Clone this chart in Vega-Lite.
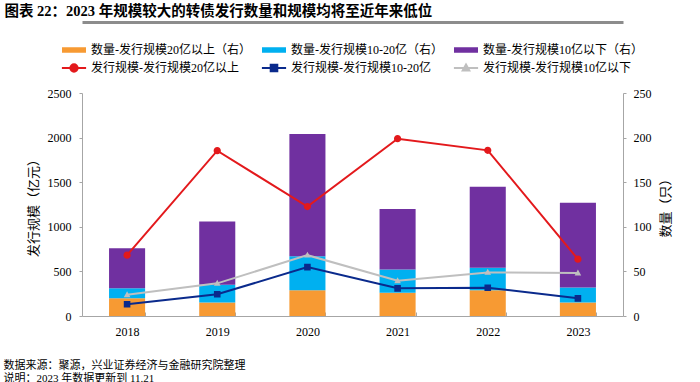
{
  "$schema": "https://vega.github.io/schema/vega-lite/v6.json",
  "width": 541,
  "height": 223,
  "autosize": {"type": "none"},
  "padding": {"left": 82, "top": 93, "right": 77, "bottom": 66},
  "background": "white",
  "config": {
    "view": {"stroke": null},
    "axis": {"grid": false, "domainColor": "#A6A6A6", "tickColor": "#A6A6A6", "labelColor": "#000000", "titleColor": "#000000", "labelFont": "Liberation Serif", "labelFontSize": 12, "titleFont": "Liberation Serif, Noto Sans CJK SC", "titleFontWeight": "normal", "titleFontSize": 13}
  },
  "datasets": {
    "bars": [
      {"year": "2018", "series": "数量-发行规模20亿以上（右）", "k": 1, "count": 20},
      {"year": "2018", "series": "数量-发行规模10-20亿（右）", "k": 2, "count": 11},
      {"year": "2018", "series": "数量-发行规模10亿以下（右）", "k": 3, "count": 45},
      {"year": "2019", "series": "数量-发行规模20亿以上（右）", "k": 1, "count": 15},
      {"year": "2019", "series": "数量-发行规模10-20亿（右）", "k": 2, "count": 20},
      {"year": "2019", "series": "数量-发行规模10亿以下（右）", "k": 3, "count": 71},
      {"year": "2020", "series": "数量-发行规模20亿以上（右）", "k": 1, "count": 29},
      {"year": "2020", "series": "数量-发行规模10-20亿（右）", "k": 2, "count": 38},
      {"year": "2020", "series": "数量-发行规模10亿以下（右）", "k": 3, "count": 137},
      {"year": "2021", "series": "数量-发行规模20亿以上（右）", "k": 1, "count": 26},
      {"year": "2021", "series": "数量-发行规模10-20亿（右）", "k": 2, "count": 26},
      {"year": "2021", "series": "数量-发行规模10亿以下（右）", "k": 3, "count": 68},
      {"year": "2022", "series": "数量-发行规模20亿以上（右）", "k": 1, "count": 29},
      {"year": "2022", "series": "数量-发行规模10-20亿（右）", "k": 2, "count": 25},
      {"year": "2022", "series": "数量-发行规模10亿以下（右）", "k": 3, "count": 91},
      {"year": "2023", "series": "数量-发行规模20亿以上（右）", "k": 1, "count": 15},
      {"year": "2023", "series": "数量-发行规模10-20亿（右）", "k": 2, "count": 17},
      {"year": "2023", "series": "数量-发行规模10亿以下（右）", "k": 3, "count": 95}
    ],
    "lines": [
      {"year": "2018", "series": "发行规模-发行规模20亿以上", "amount": 682},
      {"year": "2019", "series": "发行规模-发行规模20亿以上", "amount": 1853},
      {"year": "2020", "series": "发行规模-发行规模20亿以上", "amount": 1227},
      {"year": "2021", "series": "发行规模-发行规模20亿以上", "amount": 1988},
      {"year": "2022", "series": "发行规模-发行规模20亿以上", "amount": 1857},
      {"year": "2023", "series": "发行规模-发行规模20亿以上", "amount": 637},
      {"year": "2018", "series": "发行规模-发行规模10-20亿", "amount": 131},
      {"year": "2019", "series": "发行规模-发行规模10-20亿", "amount": 243},
      {"year": "2020", "series": "发行规模-发行规模10-20亿", "amount": 548},
      {"year": "2021", "series": "发行规模-发行规模10-20亿", "amount": 310},
      {"year": "2022", "series": "发行规模-发行规模10-20亿", "amount": 317},
      {"year": "2023", "series": "发行规模-发行规模10-20亿", "amount": 198},
      {"year": "2018", "series": "发行规模-发行规模10亿以下", "amount": 238},
      {"year": "2019", "series": "发行规模-发行规模10亿以下", "amount": 366},
      {"year": "2020", "series": "发行规模-发行规模10亿以下", "amount": 682},
      {"year": "2021", "series": "发行规模-发行规模10亿以下", "amount": 395},
      {"year": "2022", "series": "发行规模-发行规模10亿以下", "amount": 489},
      {"year": "2023", "series": "发行规模-发行规模10亿以下", "amount": 481}
    ]
  },
  "layer": [
    {
      "data": {"name": "bars"},
      "mark": {"type": "bar"},
      "encoding": {
        "x": {
          "field": "year", "type": "nominal",
          "scale": {"paddingInner": 0.6, "paddingOuter": 0.3},
          "axis": {
            "orient": "bottom", "labelAngle": 0, "labelPadding": 14, "tickBand": "extent", "tickSize": -4,
            "title": ["数据来源：聚源，兴业证券经济与金融研究院整理", "说明：2023 年数据更新到 11.21"],
            "titleX": -79, "titleY": 43, "titleAlign": "left", "titleAnchor": "start", "titleBaseline": "top",
            "titleFontSize": 11, "titleLineHeight": 13
          }
        },
        "y": {
          "field": "count", "type": "quantitative", "stack": "zero",
          "scale": {"domain": [0, 250]},
          "axis": {"orient": "right", "values": [0, 50, 100, 150, 200, 250], "format": "d", "title": "数量（只）", "titleAngle": 270, "titleBaseline": "top", "titlePadding": 8, "labelPadding": 7, "tickSize": 3}
        },
        "color": {
          "field": "series", "type": "nominal",
          "scale": {
            "domain": ["数量-发行规模20亿以上（右）", "数量-发行规模10-20亿（右）", "数量-发行规模10亿以下（右）", "发行规模-发行规模20亿以上", "发行规模-发行规模10-20亿", "发行规模-发行规模10亿以下"],
            "range": ["#F79A33", "#00B0F0", "#7030A0", "#E3191C", "#0A2A8C", "#BFBFBF"]
          },
          "legend": {
            "orient": "none", "legendX": -20, "legendY": -55, "direction": "horizontal", "columns": 3, "title": null,
            "columnPadding": 6, "rowPadding": 0, "labelFont": "Liberation Serif, Noto Sans CJK SC", "labelFontSize": 12,
            "labelColor": "#000000", "labelOffset": 5, "labelLimit": 300, "symbolSize": 484, "symbolStrokeWidth": 2
          }
        },
        "order": {"field": "k", "type": "quantitative"}
      }
    },
    {
      "data": {"name": "lines"},
      "encoding": {
        "x": {
          "field": "year", "type": "nominal",
          "axis": {
            "orient": "top", "offset": 71, "labels": false, "ticks": false, "domainColor": "#8C8C8C", "domainWidth": 3,
            "title": "图表 22：2023 年规模较大的转债发行数量和规模均将至近年来低位",
            "titleX": -78, "titleY": -7, "titleAlign": "left", "titleAnchor": "start", "titleBaseline": "alphabetic",
            "titleFontSize": 14.5, "titleFontWeight": "bold"
          }
        },
        "y": {
          "field": "amount", "type": "quantitative",
          "scale": {"domain": [0, 2500]},
          "axis": {"orient": "left", "values": [0, 500, 1000, 1500, 2000, 2500], "format": "d", "title": "发行规模（亿元）", "titlePadding": 7, "labelPadding": 8, "tickSize": 3}
        },
        "color": {"field": "series", "type": "nominal"}
      },
      "layer": [
        {"mark": {"type": "line", "strokeWidth": 2}},
        {
          "mark": {"type": "point", "filled": true, "opacity": 1, "size": 484, "strokeWidth": 0},
          "encoding": {
            "shape": {
              "field": "series", "type": "nominal",
              "scale": {
                "domain": ["数量-发行规模20亿以上（右）", "数量-发行规模10-20亿（右）", "数量-发行规模10亿以下（右）", "发行规模-发行规模20亿以上", "发行规模-发行规模10-20亿", "发行规模-发行规模10亿以下"],
                "range": ["M-1,-0.15H1V0.15H-1Z", "M-1,-0.15H1V0.15H-1Z", "M-1,-0.15H1V0.15H-1Z", "M-1.1,0H1.1M-0.33,0A0.33,0.33,0,1,1,0.33,0A0.33,0.33,0,1,1,-0.33,0Z", "M-1.1,0H1.1M-0.3,-0.3H0.3V0.3H-0.3Z", "M-1.1,0H1.1M0,-0.32L0.3,0.22H-0.3Z"]
              },
              "legend": {
                "orient": "none", "legendX": -20, "legendY": -55, "direction": "horizontal", "columns": 3, "title": null,
                "columnPadding": 6, "rowPadding": 0, "labelFont": "Liberation Serif, Noto Sans CJK SC", "labelFontSize": 12,
                "labelColor": "#000000", "labelOffset": 5, "labelLimit": 300, "symbolSize": 484, "symbolStrokeWidth": 2
              }
            }
          }
        }
      ]
    }
  ],
  "resolve": {"scale": {"y": "independent"}, "axis": {"x": "independent"}}
}
